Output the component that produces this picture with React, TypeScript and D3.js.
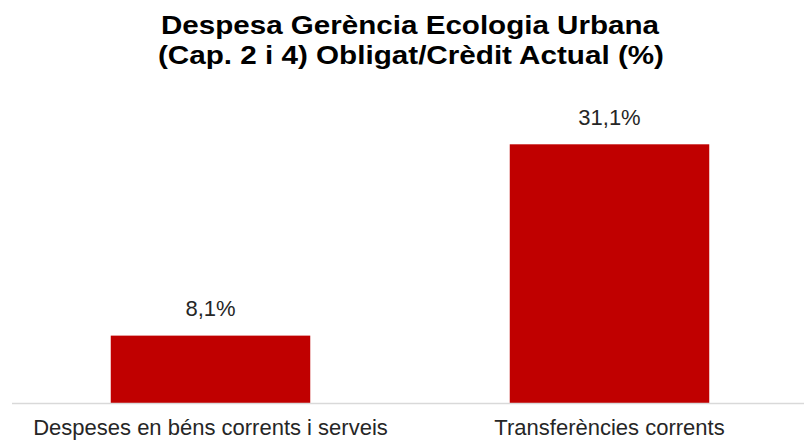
import React from "react";
import * as d3 from "d3";

const categories = ["Despeses en béns corrents i serveis", "Transferències corrents"];
const values = [8.1, 31.1];
const valueLabels = ["8,1%", "31,1%"];
const titleLines = ["Despesa Gerència Ecologia Urbana", "(Cap. 2 i 4) Obligat/Crèdit Actual (%)"];

const W = 805;
const H = 440;
const baseY = 403;
const font = "Arial, 'Liberation Sans', sans-serif";

export default function App() {
  const x = d3.scaleBand<string>().domain(categories).range([11, 809]).paddingInner(0.5).paddingOuter(0.25);
  const y = d3.scaleLinear().domain([0, 31.1]).range([baseY, 144.3]);
  return (
    <svg width={W} height={H} style={{ position: "absolute", left: 0, top: 0, background: "#fff" }}>
      <text x={410} y={34} textAnchor="middle" fontFamily={font} fontWeight="bold" fontSize={25} fill="#000" textLength={498} lengthAdjust="spacingAndGlyphs">{titleLines[0]}</text>
      <text x={411} y={64} textAnchor="middle" fontFamily={font} fontWeight="bold" fontSize={25} fill="#000" textLength={506} lengthAdjust="spacingAndGlyphs">{titleLines[1]}</text>
      {categories.map((c, i) => (
        <g key={c}>
          <rect x={x(c)} y={y(values[i])} width={x.bandwidth()} height={baseY - y(values[i])} fill="#c00000" />
          <text x={(x(c) as number) + x.bandwidth() / 2} y={y(values[i]) - 19.5} textAnchor="middle" fontFamily={font} fontSize={22} fill="#262626">{valueLabels[i]}</text>
          <text x={(x(c) as number) + x.bandwidth() / 2} y={435} textAnchor="middle" fontFamily={font} fontSize={22} fill="#262626">{c}</text>
        </g>
      ))}
      <line x1={12} x2={804} y1={baseY + 0.5} y2={baseY + 0.5} stroke="#d9d9d9" strokeWidth={1.5} />
    </svg>
  );
}
